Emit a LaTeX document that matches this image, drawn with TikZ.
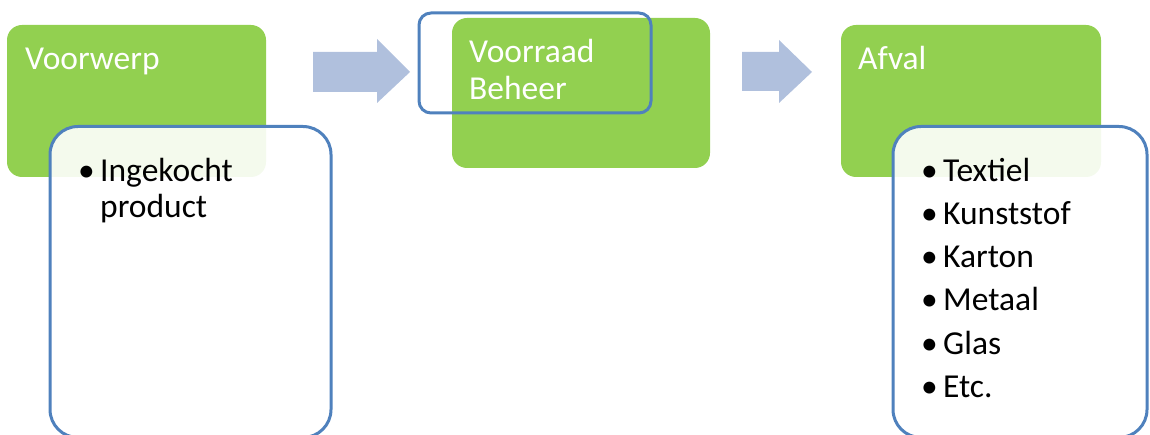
\documentclass[tikz,border=0pt]{standalone}
\usepackage{fontspec}
\setmainfont{Carlito}
\definecolor{gfill}{HTML}{92D050}
\definecolor{bline}{HTML}{4F81BD}
\definecolor{afill}{HTML}{B0C0DD}
\tikzset{
  greenbox/.style={draw=none, fill=gfill, rounded corners=15pt, inner sep=0pt},
  listbox/.style={draw=bline, line width=3pt, fill=white, fill opacity=0.9, rounded corners=28pt, inner sep=0pt},
  framebox/.style={draw=bline, line width=3pt, rounded corners=12pt, inner sep=0pt},
  flowarrow/.style={fill=afill, draw=none},
  wtext/.style={text=white, font=\fontsize{33.5}{37}\selectfont, inner sep=0pt, anchor=base west},
  btext/.style={text=black, font=\fontsize{33.5}{37}\selectfont, inner sep=0pt, anchor=base west},
}
\newcommand{\bul}{\makebox[22pt][l]{•}}
\begin{document}
\begin{tikzpicture}[x=1pt,y=-1pt]
\useasboundingbox (0,0) rectangle (1150,435);
% green boxes
\node[greenbox, minimum width=259pt, minimum height=152pt] (g1) at (136.5,101) {};
\node[greenbox, minimum width=258pt, minimum height=150pt] (g2) at (581,93) {};
\node[greenbox, minimum width=260pt, minimum height=152pt] (g3) at (971,101) {};
% arrows
\fill[flowarrow] (313,52) -- (377,52) -- (377,39) -- (410,72) -- (377,103) -- (377,92) -- (313,92) -- cycle;
\fill[flowarrow] (742,52) -- (779,52) -- (779,40) -- (812,72) -- (779,103) -- (779,91) -- (742,91) -- cycle;
% list boxes
\node[listbox, minimum width=281pt, minimum height=311pt] (b1) at (190.5,282) {};
\node[listbox, minimum width=254pt, minimum height=311pt] (b3) at (1020,282) {};
\node[framebox, minimum width=232pt, minimum height=100pt] (b2) at (535,63) {};
% green texts
\node[wtext] (t1) at (25,70) {Voorwerp};
\node[wtext] (t2a) at (469,63) {Voorraad};
\node[wtext] (t2b) at (469,100) {Beheer};
\node[wtext] (t3) at (858,70) {Afval};
% list texts
\node[btext] (l1a) at (78,182) {\bul Ingekocht};
\node[btext] (l1b) at (100,218) {product};
\node[btext] (l3a) at (921,182) {\bul Textiel};
\node[btext] (l3b) at (921,225) {\bul Kunststof};
\node[btext] (l3c) at (921,268) {\bul Karton};
\node[btext] (l3d) at (921,311) {\bul Metaal};
\node[btext] (l3e) at (921,354) {\bul Glas};
\node[btext] (l3f) at (921,397) {\bul Etc.};
\end{tikzpicture}
\end{document}
